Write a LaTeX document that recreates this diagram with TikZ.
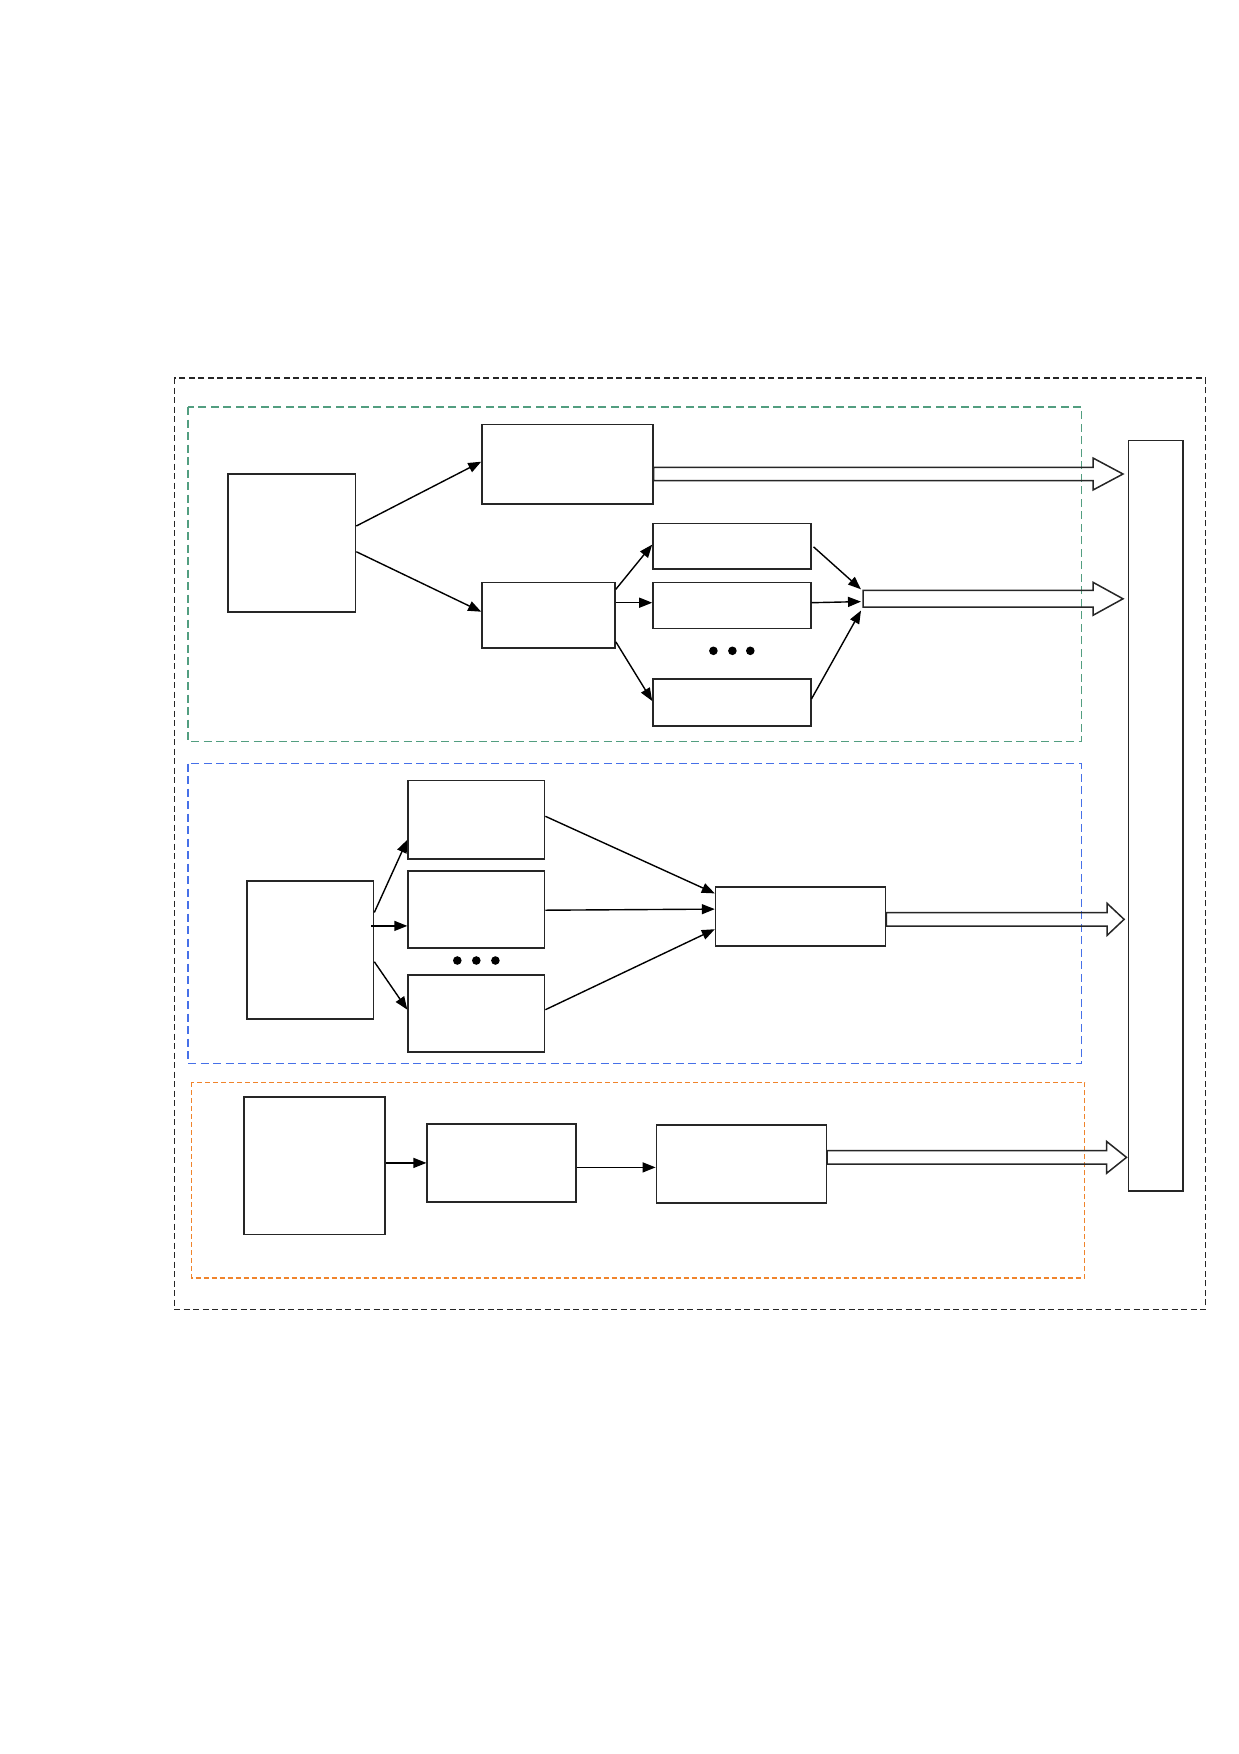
\documentclass[tikz,border=0pt]{standalone}
\usetikzlibrary{arrows.meta,calc}
\definecolor{grn}{RGB}{82,158,128}
\definecolor{blu}{RGB}{70,112,232}
\definecolor{org}{RGB}{240,132,44}
\newcommand\fatarr[5]{%
  \draw[fat] let \p1=(#1), \p2=(#2) in
    (\x1,\y1+#3) -- (\x2-#5,\y1+#3) -- (\x2-#5,\y1+#4) -- (\x2,\y1)
    -- (\x2-#5,\y1-#4) -- (\x2-#5,\y1-#3) -- (\x1,\y1-#3) -- cycle;}
\begin{document}
\begin{tikzpicture}[x=1pt,y=-1pt,
  box/.style={draw=black!85, line width=1.6pt, rectangle, inner sep=0pt},
  arr/.style={draw=black, line width=1.4pt, -{Triangle[length=13pt,width=10pt]}},
  fat/.style={draw=black!85, line width=1.5pt, line join=miter},
  frame/.style={line width=1.4pt, dash pattern=on 6pt off 3.5pt},
  dot/.style={fill=black}]
\useasboundingbox (0,0) rectangle (1239,1754);

% frames
\draw[frame, draw=black!85] (174.4,378) rectangle (1205.4,1309.4);
\draw[frame, draw=grn, dash pattern=on 8pt off 4.5pt] (187.9,407) rectangle (1081.3,741.4);
\draw[frame, draw=blu, dash pattern=on 8pt off 4.5pt] (187.9,763.7) rectangle (1081.3,1063.4);
\draw[frame, draw=org, dash pattern=on 5pt off 3pt] (191.2,1082.4) rectangle (1084.7,1278.1);

% right tall box
\node[box, minimum width=54.7pt, minimum height=750.3pt] (R) at (1155.65,815.75) {};

% top group
\node[box, minimum width=127.5pt, minimum height=138pt] (A) at (291.75,543) {};
\node[box, minimum width=170.7pt, minimum height=79.4pt] (B) at (567.35,464) {};
\node[box, minimum width=133pt, minimum height=65.7pt] (C) at (548.5,615.15) {};
\node[box, minimum width=157.7pt, minimum height=45.9pt] (D1) at (731.85,546.25) {};
\node[box, minimum width=157.7pt, minimum height=45.8pt] (D2) at (731.85,605.5) {};
\node[box, minimum width=157.7pt, minimum height=47pt] (D3) at (731.85,702.2) {};
\coordinate (M) at (863,598.8);

\draw[arr] (A.east |- 0,526) -- (B.west |- 0,461.7);
\draw[arr] (A.east |- 0,551.7) -- (C.west |- 0,611.7);
\draw[arr] (C.east |- 0,589.3) -- (D1.west |- 0,544.6);
\draw[arr] (C.east |- 0,602.7) -- (D2.west |- 0,602.7);
\draw[arr] (C.east |- 0,641.8) -- (D3.west |- 0,701);
\draw[arr] ($(D1.east |- 0,546.8)+(2,0)$) -- ($(M)+(-2,-9.5)$);
\draw[arr] (D2.east |- 0,602.7) -- ($(M)+(-2,2.8)$);
\draw[arr] (D3.east |- 0,698.9) -- ($(M)+(-2,11.7)$);
\foreach \x in {713.4,732.4,750.3} \fill[dot] (\x,650.8) circle (4.3pt);

\fatarr{$(B.east)+(0,10)$}{$(R.west |- 0,474)+(-4.5,0)$}{6.7pt}{16pt}{30pt}
\fatarr{M}{$(R.west |- 0,598.8)+(-4.5,0)$}{8.4pt}{16.5pt}{30pt}

% middle group
\node[box, minimum width=126.4pt, minimum height=137.6pt] (E) at (310.3,949.9) {};
\node[box, minimum width=136.5pt, minimum height=78.3pt] (F1) at (476.35,819.65) {};
\node[box, minimum width=136.5pt, minimum height=77.1pt] (F2) at (476.35,909.65) {};
\node[box, minimum width=136.5pt, minimum height=77.2pt] (F3) at (476.35,1013.6) {};
\node[box, minimum width=170pt, minimum height=59.3pt] (G) at (800.6,916.35) {};

\draw[arr] (E.east |- 0,912.5) -- (F1.west |- 0,839.8);
\draw[arr] ($(E.east |- 0,925.9)+(-3,0)$) -- (F2.west |- 0,925.9);
\draw[arr] (E.east |- 0,961.7) -- (F3.west |- 0,1009.7);
\draw[arr] (F1.east |- 0,816.3) -- (G.west |- 0,893.4);
\draw[arr] (F2.east |- 0,910.2) -- (G.west |- 0,909.1);
\draw[arr] (F3.east |- 0,1009.7) -- (G.west |- 0,929.2);
\foreach \x in {457.3,476.3,495.4} \fill[dot] (\x,960.5) circle (4.3pt);

\fatarr{$(G.east)+(0,3)$}{$(R.west |- 0,919.2)+(-3.4,0)$}{6.7pt}{16pt}{17pt}

% bottom group
\node[box, minimum width=140.9pt, minimum height=137.5pt] (H) at (314.25,1165.75) {};
\node[box, minimum width=148.7pt, minimum height=78.2pt] (I) at (501.55,1162.9) {};
\node[box, minimum width=170pt, minimum height=78.3pt] (J) at (741.4,1164.05) {};

\draw[arr] (H.east |- 0,1162.9) -- (I.west |- 0,1162.9);
\draw[arr] (I.east |- 0,1167.4) -- (J.west |- 0,1167.4);

\fatarr{$(J.east)+(0,-6.7)$}{$(R.west |- 0,1157.3)+(-1,0)$}{6.7pt}{16pt}{20pt}
\end{tikzpicture}
\end{document}
